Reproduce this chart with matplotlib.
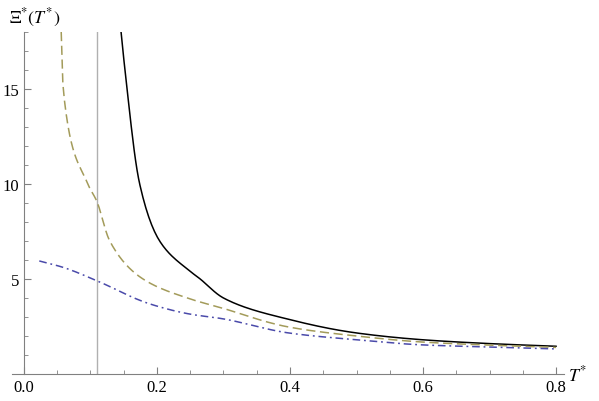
import matplotlib
matplotlib.use("Agg")
import matplotlib.pyplot as plt
import numpy as np
from matplotlib.ticker import MultipleLocator

plt.rcParams['font.family'] = ['Liberation Serif', 'DejaVu Serif']
plt.rcParams['mathtext.fontset'] = 'stix'

black_x = [0.146, 0.155, 0.174, 0.204, 0.25, 0.265, 0.3, 0.4, 0.5, 0.6, 0.7, 0.8]
black_y = [18.0, 15.0, 10.0, 7.0, 5.4, 5.0, 4.0, 2.86, 2.16, 1.8, 1.6, 1.46]
olive_x = [0.056, 0.059, 0.096, 0.11, 0.129, 0.179, 0.25, 0.3, 0.4, 0.5, 0.6, 0.7, 0.8]
olive_y = [18.0, 15.0, 10.0, 9.05, 7.0, 5.0, 3.95, 3.45, 2.46, 2.0, 1.68, 1.52, 1.4]
blue_x = [0.023, 0.06, 0.114, 0.19, 0.25, 0.3, 0.4, 0.5, 0.6, 0.7, 0.8]
blue_y = [5.95, 5.6, 4.84, 3.68, 3.15, 2.9, 2.15, 1.8, 1.53, 1.42, 1.32]
vline_x = 0.11

def smooth(x, y):
    x = np.asarray(x); y = np.log(np.asarray(y))
    xs = np.linspace(x[0], x[-1], 300)
    # monotone piecewise cubic (PCHIP-like) via numpy
    h = np.diff(x); d = np.diff(y) / h
    m = np.zeros_like(x)
    m[0], m[-1] = d[0], d[-1]
    for i in range(1, len(x) - 1):
        if d[i-1] * d[i] > 0:
            w1 = 2*h[i] + h[i-1]; w2 = h[i] + 2*h[i-1]
            m[i] = (w1 + w2) / (w1/d[i-1] + w2/d[i])
    idx = np.clip(np.searchsorted(x, xs) - 1, 0, len(x) - 2)
    t = (xs - x[idx]) / h[idx]
    h00 = 2*t**3 - 3*t**2 + 1; h10 = t**3 - 2*t**2 + t
    h01 = -2*t**3 + 3*t**2; h11 = t**3 - t**2
    ys = h00*y[idx] + h10*h[idx]*m[idx] + h01*y[idx+1] + h11*h[idx]*m[idx+1]
    return xs, np.exp(ys)

fig = plt.figure(figsize=(5.99, 4.02), dpi=100)
ax = fig.add_axes([12/599, 1-375/402, 552/599, 342/402])
ax.set_xlim(-0.018, 0.812)
ax.set_ylim(0, 18)

ax.axvline(vline_x, color='#b0b0b0', lw=1)
ax.plot(*smooth(black_x, black_y), color='black', lw=1.1)
ax.plot(*smooth(olive_x, olive_y), color='#a39b5a', lw=1.1, dashes=(6, 3))
ax.plot(*smooth(blue_x, blue_y), color='#4a4aaa', lw=1.1, dashes=(5, 2.5, 1.2, 2.5))

for s in ['top', 'right']:
    ax.spines[s].set_visible(False)
ax.spines['left'].set_position(('data', 0))
for s in ['left', 'bottom']:
    ax.spines[s].set_color('#808080')
ax.xaxis.set_major_locator(MultipleLocator(0.2))
ax.xaxis.set_minor_locator(MultipleLocator(0.05))
ax.yaxis.set_major_locator(MultipleLocator(5))
ax.yaxis.set_minor_locator(MultipleLocator(1))
ax.set_xticks([0.0, 0.2, 0.4, 0.6, 0.8])
ax.set_xticklabels(['0.0', '0.2', '0.4', '0.6', '0.8'])
ax.set_yticks([5, 10, 15])
ax.tick_params(which='major', length=5, color='#808080', labelsize=12, direction='in')
ax.tick_params(which='minor', length=3, color='#808080', direction='in')
ax.text(0.818, 0, r'$T^{*}$', fontsize=13, va='center', ha='left')
ax.text(-0.022, 18.2, r'$\Xi^{*}(T^{*})$', fontsize=13, va='bottom', ha='left', clip_on=False)
fig.savefig('out.png', dpi=100)
